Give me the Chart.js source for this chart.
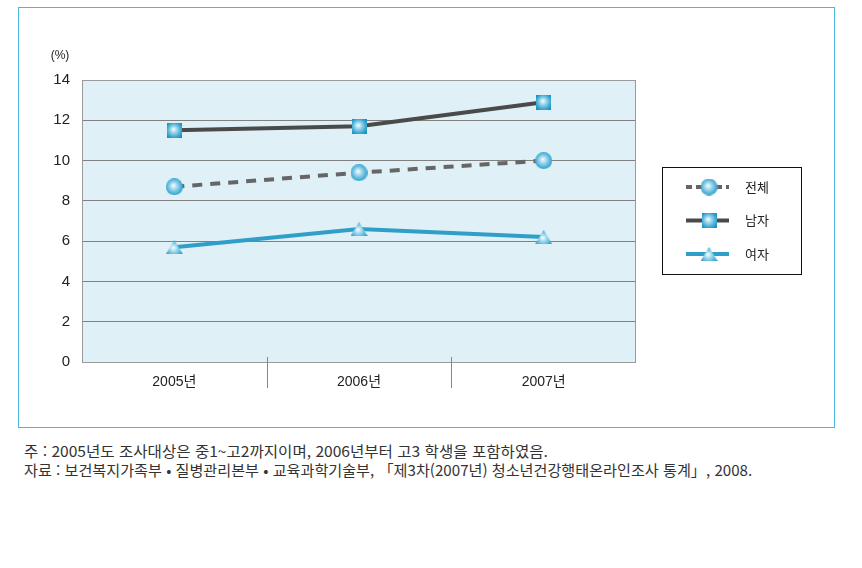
<!DOCTYPE html>
<html lang="ko">
<head>
<meta charset="utf-8">
<script src="https://cdn.jsdelivr.net/npm/chart.js@4.4.0/dist/chart.umd.min.js"></script>
<style>
  html, body { margin: 0; padding: 0; background: #fff; }
  body { width: 862px; height: 568px; position: relative; overflow: hidden; }
  #frame { position: absolute; left: 18px; top: 7px; width: 815px; height: 419px; border: 1px solid #4ab7db; }
  #chart-wrap { position: absolute; left: 0; top: 0; width: 862px; height: 430px; }
  .note { position: absolute; left: 24px; font-family: "Noto Sans CJK KR", "Liberation Sans", sans-serif;
          font-size: 15px; line-height: 18px; color: #333; white-space: nowrap; transform-origin: 0 50%; }
  #note1 { top: 442px; }
  #note2 { top: 461px; }
</style>
</head>
<body>
<div id="frame"></div>
<div id="chart-wrap"><canvas id="chart"></canvas></div>
<div class="note" id="note1" data-w="524">주 : 2005년도 조사대상은 중1~고2까지이며, 2006년부터 고3 학생을 포함하였음.</div>
<div class="note" id="note2" data-w="728">자료 : 보건복지가족부 • 질병관리본부 • 교육과학기술부, 「제3차(2007년) 청소년건강행태온라인조사 통계」, 2008.</div>
<script>
// ── Data ────────────────────────────────────────────────────
const years = ["2005년", "2006년", "2007년"];
const totalValues = [8.7, 9.4, 10.0];   // 전체
const maleValues = [11.5, 11.7, 12.9];  // 남자
const femaleValues = [5.7, 6.6, 6.2];   // 여자
const yMin = 0, yMax = 14, yStep = 2;

const FONT = '"Liberation Sans", "Noto Sans CJK KR", sans-serif';

// condensed look of the source notes
document.querySelectorAll(".note").forEach((el) => {
  const target = parseFloat(el.dataset.w);
  el.style.transform = `scaleX(${target / el.scrollWidth})`;
});

// ── Marker images (blue glossy sphere look) ─────────────────
function makeMarker(shape, w, h) {
  const c = document.createElement("canvas");
  c.width = w; c.height = h;
  const g = c.getContext("2d");
  const cx = w / 2, cy = shape === "triangle" ? h * 0.62 : h / 2;
  const grad = g.createRadialGradient(cx - w * 0.06, cy - h * 0.08, 0, cx, cy, Math.max(w, h) * 0.62);
  grad.addColorStop(0, "#ffffff");
  grad.addColorStop(0.3, "#a8dcee");
  grad.addColorStop(0.75, "#3fa9d3");
  grad.addColorStop(1, "#1d8fbf");
  g.fillStyle = grad;
  g.beginPath();
  if (shape === "circle") {
    g.arc(cx, cy, w / 2, 0, Math.PI * 2);
  } else if (shape === "rect") {
    g.rect(0, 0, w, h);
  } else {
    g.moveTo(w / 2, 0);
    g.lineTo(w, h);
    g.lineTo(0, h);
    g.closePath();
  }
  g.fill();
  return c;
}

const circleImg = makeMarker("circle", 17, 17);
const rectImg = makeMarker("rect", 15, 15);
const triImg = makeMarker("triangle", 17, 14);

// ── Plugins ─────────────────────────────────────────────────
const plotBackground = {
  id: "plotBackground",
  beforeDraw(chart) {
    const { ctx, chartArea: a } = chart;
    ctx.save();
    ctx.fillStyle = "#dff0f7";
    ctx.fillRect(a.left, a.top, a.right - a.left, a.bottom - a.top);
    ctx.restore();
  },
  beforeDatasetsDraw(chart) {
    const { ctx, chartArea: a, scales } = chart;
    ctx.save();
    ctx.strokeStyle = "#9a9a9a";
    ctx.lineWidth = 1;
    ctx.strokeRect(a.left + 0.5, a.top + 0.5, a.right - a.left - 1, a.bottom - a.top);
    // category separators
    ctx.strokeStyle = "#888";
    const x = scales.x;
    for (let i = 0; i < years.length - 1; i++) {
      const px = Math.round((x.getPixelForValue(i) + x.getPixelForValue(i + 1)) / 2) + 0.5;
      ctx.beginPath();
      ctx.moveTo(px, a.bottom - 5);
      ctx.lineTo(px, a.bottom + 26);
      ctx.stroke();
    }
    // unit label
    ctx.fillStyle = "#222";
    ctx.font = "12px " + FONT;
    ctx.textAlign = "center";
    ctx.textBaseline = "middle";
    ctx.fillText("(%)", 60, 56);
    ctx.restore();
  }
};

const boxLegend = {
  id: "boxLegend",
  afterDraw(chart) {
    const { ctx } = chart;
    const order = [1, 0, 2];
    const left = 662, top = 167, w = 139, h = 107;
    ctx.save();
    ctx.strokeStyle = "#111";
    ctx.lineWidth = 1;
    ctx.strokeRect(left + 0.5, top + 0.5, w, h);
    order.forEach((di, row) => {
      const ds = chart.data.datasets[di];
      const y = 187 + row * 33.5;
      ctx.save();
      ctx.strokeStyle = ds.borderColor;
      ctx.lineWidth = 4;
      ctx.setLineDash(ds.borderDash ? [6, 4] : []);
      ctx.beginPath();
      ctx.moveTo(686, y);
      ctx.lineTo(729, y);
      ctx.stroke();
      ctx.restore();
      const img = ds.pointStyle;
      ctx.drawImage(img, 709 - img.width / 2, y - img.height / 2);
      ctx.fillStyle = "#222";
      ctx.font = "13px " + FONT;
      ctx.textAlign = "left";
      ctx.textBaseline = "middle";
      ctx.fillText(ds.label, 745, y + 1);
    });
    ctx.restore();
  }
};

// ── Chart ───────────────────────────────────────────────────
new Chart(document.getElementById("chart"), {
  type: "line",
  data: {
    labels: years,
    datasets: [
      {
        label: "남자",
        data: maleValues,
        borderColor: "#4a4a4a",
        borderWidth: 4,
        pointStyle: rectImg,
        tension: 0
      },
      {
        label: "전체",
        data: totalValues,
        borderColor: "#666666",
        borderWidth: 4,
        borderDash: [10, 8],
        pointStyle: circleImg,
        tension: 0
      },
      {
        label: "여자",
        data: femaleValues,
        borderColor: "#2f9fc9",
        borderWidth: 4,
        pointStyle: triImg,
        tension: 0
      }
    ]
  },
  options: {
    responsive: true,
    maintainAspectRatio: false,
    animation: false,
    layout: { padding: { left: 0, top: 80, right: 226, bottom: 0 } },
    plugins: { legend: { display: false }, tooltip: { enabled: false } },
    scales: {
      x: {
        offset: true,
        grid: { display: false },
        border: { display: false },
        ticks: { color: "#222", font: { family: FONT, size: 14 }, padding: 4 },
        afterFit(s) { s.height = 68; }
      },
      y: {
        min: yMin,
        max: yMax,
        ticks: { stepSize: yStep, color: "#222", font: { family: FONT, size: 15 }, padding: 12 },
        grid: { color: "#808080", lineWidth: 1, drawTicks: false },
        border: { display: false },
        afterFit(s) { s.width = 82; }
      }
    }
  },
  plugins: [plotBackground, boxLegend]
});
</script>
</body>
</html>
